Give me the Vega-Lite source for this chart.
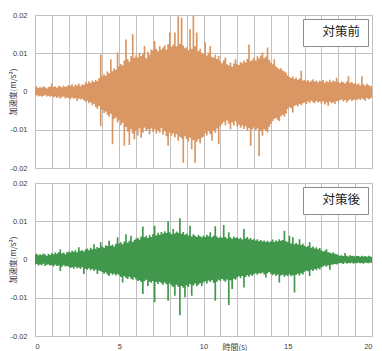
{
"$schema": "https://vega.github.io/schema/vega-lite/v6.json",
"padding": {"left": 9, "top": 11, "right": 5, "bottom": 0},
"bounds": "flush",
"spacing": 15,
"datasets": {
"before": [
{"t":0.0,"hi":0.0011,"lo":-0.0012},{"t":0.1,"hi":0.0013,"lo":-0.0010},{"t":0.2,"hi":0.0009,"lo":-0.0013},{"t":0.3,"hi":0.0012,"lo":-0.0011},{"t":0.4,"hi":0.0010,"lo":-0.0014},{"t":0.5,"hi":0.0014,"lo":-0.0012},{"t":0.6,"hi":0.0011,"lo":-0.0009},{"t":0.7,"hi":0.0008,"lo":-0.0013},{"t":0.8,"hi":0.0012,"lo":-0.0011},{"t":0.9,"hi":0.0013,"lo":-0.0014},
{"t":1.0,"hi":0.0021,"lo":-0.0012},{"t":1.1,"hi":0.0012,"lo":-0.0016},{"t":1.2,"hi":0.0014,"lo":-0.0013},{"t":1.3,"hi":0.0010,"lo":-0.0017},{"t":1.4,"hi":0.0015,"lo":-0.0014},{"t":1.5,"hi":0.0013,"lo":-0.0019},{"t":1.6,"hi":0.0011,"lo":-0.0015},{"t":1.7,"hi":0.0016,"lo":-0.0013},{"t":1.8,"hi":0.0012,"lo":-0.0018},{"t":1.9,"hi":0.0014,"lo":-0.0016},
{"t":2.0,"hi":0.0017,"lo":-0.0017},{"t":2.1,"hi":0.0015,"lo":-0.0020},{"t":2.2,"hi":0.0019,"lo":-0.0016},{"t":2.3,"hi":0.0013,"lo":-0.0019},{"t":2.4,"hi":0.0018,"lo":-0.0017},{"t":2.5,"hi":0.0016,"lo":-0.0025},{"t":2.6,"hi":0.0021,"lo":-0.0018},{"t":2.7,"hi":0.0014,"lo":-0.0021},{"t":2.8,"hi":0.0019,"lo":-0.0019},{"t":2.9,"hi":0.0017,"lo":-0.0023},
{"t":3.0,"hi":0.0024,"lo":-0.0027},{"t":3.1,"hi":0.0020,"lo":-0.0024},{"t":3.2,"hi":0.0027,"lo":-0.0031},{"t":3.3,"hi":0.0022,"lo":-0.0028},{"t":3.4,"hi":0.0029,"lo":-0.0036},{"t":3.5,"hi":0.0025,"lo":-0.0032},{"t":3.6,"hi":0.0031,"lo":-0.0040},{"t":3.7,"hi":0.0027,"lo":-0.0045},{"t":3.8,"hi":0.0035,"lo":-0.0038},{"t":3.9,"hi":0.0097,"lo":-0.0090},
{"t":4.0,"hi":0.0040,"lo":-0.0048},{"t":4.1,"hi":0.0045,"lo":-0.0056},{"t":4.2,"hi":0.0041,"lo":-0.0052},{"t":4.3,"hi":0.0052,"lo":-0.0061},{"t":4.4,"hi":0.0048,"lo":-0.0066},{"t":4.5,"hi":0.0084,"lo":-0.0058},{"t":4.6,"hi":0.0053,"lo":-0.0138},{"t":4.7,"hi":0.0061,"lo":-0.0072},{"t":4.8,"hi":0.0057,"lo":-0.0068},{"t":4.9,"hi":0.0102,"lo":-0.0081},
{"t":5.0,"hi":0.0066,"lo":-0.0075},{"t":5.1,"hi":0.0072,"lo":-0.0088},{"t":5.2,"hi":0.0068,"lo":-0.0082},{"t":5.3,"hi":0.0081,"lo":-0.0142},{"t":5.4,"hi":0.0136,"lo":-0.0093},{"t":5.5,"hi":0.0085,"lo":-0.0105},{"t":5.6,"hi":0.0078,"lo":-0.0140},{"t":5.7,"hi":0.0092,"lo":-0.0098},{"t":5.8,"hi":0.0150,"lo":-0.0110},{"t":5.9,"hi":0.0088,"lo":-0.0125},
{"t":6.0,"hi":0.0095,"lo":-0.0102},{"t":6.1,"hi":0.0089,"lo":-0.0115},{"t":6.2,"hi":0.0101,"lo":-0.0096},{"t":6.3,"hi":0.0093,"lo":-0.0121},{"t":6.4,"hi":0.0098,"lo":-0.0108},{"t":6.5,"hi":0.0119,"lo":-0.0094},{"t":6.6,"hi":0.0087,"lo":-0.0103},{"t":6.7,"hi":0.0104,"lo":-0.0099},{"t":6.8,"hi":0.0096,"lo":-0.0112},{"t":6.9,"hi":0.0110,"lo":-0.0097},
{"t":7.0,"hi":0.0108,"lo":-0.0105},{"t":7.1,"hi":0.0132,"lo":-0.0099},{"t":7.2,"hi":0.0112,"lo":-0.0110},{"t":7.3,"hi":0.0105,"lo":-0.0102},{"t":7.4,"hi":0.0118,"lo":-0.0108},{"t":7.5,"hi":0.0110,"lo":-0.0096},{"t":7.6,"hi":0.0115,"lo":-0.0113},{"t":7.7,"hi":0.0121,"lo":-0.0104},{"t":7.8,"hi":0.0109,"lo":-0.0117},{"t":7.9,"hi":0.0124,"lo":-0.0142},
{"t":8.0,"hi":0.0154,"lo":-0.0108},{"t":8.1,"hi":0.0117,"lo":-0.0115},{"t":8.2,"hi":0.0122,"lo":-0.0109},{"t":8.3,"hi":0.0154,"lo":-0.0120},{"t":8.4,"hi":0.0118,"lo":-0.0112},{"t":8.5,"hi":0.0197,"lo":-0.0129},{"t":8.6,"hi":0.0125,"lo":-0.0118},{"t":8.7,"hi":0.0193,"lo":-0.0123},{"t":8.8,"hi":0.0120,"lo":-0.0186},{"t":8.9,"hi":0.0113,"lo":-0.0117},
{"t":9.0,"hi":0.0116,"lo":-0.0124},{"t":9.1,"hi":0.0108,"lo":-0.0131},{"t":9.2,"hi":0.0163,"lo":-0.0120},{"t":9.3,"hi":0.0112,"lo":-0.0151},{"t":9.4,"hi":0.0199,"lo":-0.0127},{"t":9.5,"hi":0.0118,"lo":-0.0186},{"t":9.6,"hi":0.0154,"lo":-0.0132},{"t":9.7,"hi":0.0105,"lo":-0.0125},{"t":9.8,"hi":0.0112,"lo":-0.0136},{"t":9.9,"hi":0.0101,"lo":-0.0121},
{"t":10.0,"hi":0.0098,"lo":-0.0118},{"t":10.1,"hi":0.0129,"lo":-0.0109},{"t":10.2,"hi":0.0094,"lo":-0.0115},{"t":10.3,"hi":0.0102,"lo":-0.0104},{"t":10.4,"hi":0.0119,"lo":-0.0112},{"t":10.5,"hi":0.0091,"lo":-0.0129},{"t":10.6,"hi":0.0088,"lo":-0.0101},{"t":10.7,"hi":0.0096,"lo":-0.0108},{"t":10.8,"hi":0.0085,"lo":-0.0097},{"t":10.9,"hi":0.0093,"lo":-0.0138},
{"t":11.0,"hi":0.0079,"lo":-0.0091},{"t":11.1,"hi":0.0074,"lo":-0.0085},{"t":11.2,"hi":0.0082,"lo":-0.0079},{"t":11.3,"hi":0.0089,"lo":-0.0088},{"t":11.4,"hi":0.0071,"lo":-0.0076},{"t":11.5,"hi":0.0068,"lo":-0.0084},{"t":11.6,"hi":0.0076,"lo":-0.0099},{"t":11.7,"hi":0.0065,"lo":-0.0081},{"t":11.8,"hi":0.0073,"lo":-0.0089},{"t":11.9,"hi":0.0084,"lo":-0.0078},
{"t":12.0,"hi":0.0072,"lo":-0.0092},{"t":12.1,"hi":0.0069,"lo":-0.0087},{"t":12.2,"hi":0.0078,"lo":-0.0095},{"t":12.3,"hi":0.0074,"lo":-0.0089},{"t":12.4,"hi":0.0081,"lo":-0.0098},{"t":12.5,"hi":0.0076,"lo":-0.0091},{"t":12.6,"hi":0.0085,"lo":-0.0102},{"t":12.7,"hi":0.0123,"lo":-0.0096},{"t":12.8,"hi":0.0079,"lo":-0.0142},{"t":12.9,"hi":0.0083,"lo":-0.0099},
{"t":13.0,"hi":0.0088,"lo":-0.0094},{"t":13.1,"hi":0.0081,"lo":-0.0101},{"t":13.2,"hi":0.0092,"lo":-0.0097},{"t":13.3,"hi":0.0086,"lo":-0.0169},{"t":13.4,"hi":0.0094,"lo":-0.0104},{"t":13.5,"hi":0.0102,"lo":-0.0116},{"t":13.6,"hi":0.0087,"lo":-0.0099},{"t":13.7,"hi":0.0091,"lo":-0.0103},{"t":13.8,"hi":0.0115,"lo":-0.0107},{"t":13.9,"hi":0.0083,"lo":-0.0092},
{"t":14.0,"hi":0.0076,"lo":-0.0085},{"t":14.1,"hi":0.0071,"lo":-0.0078},{"t":14.2,"hi":0.0084,"lo":-0.0072},{"t":14.3,"hi":0.0066,"lo":-0.0069},{"t":14.4,"hi":0.0062,"lo":-0.0074},{"t":14.5,"hi":0.0058,"lo":-0.0077},{"t":14.6,"hi":0.0061,"lo":-0.0065},{"t":14.7,"hi":0.0055,"lo":-0.0061},{"t":14.8,"hi":0.0052,"lo":-0.0066},{"t":14.9,"hi":0.0049,"lo":-0.0058},
{"t":15.0,"hi":0.0042,"lo":-0.0046},{"t":15.1,"hi":0.0038,"lo":-0.0041},{"t":15.2,"hi":0.0035,"lo":-0.0044},{"t":15.3,"hi":0.0039,"lo":-0.0055},{"t":15.4,"hi":0.0033,"lo":-0.0038},{"t":15.5,"hi":0.0036,"lo":-0.0035},{"t":15.6,"hi":0.0031,"lo":-0.0039},{"t":15.7,"hi":0.0034,"lo":-0.0033},{"t":15.8,"hi":0.0054,"lo":-0.0036},{"t":15.9,"hi":0.0029,"lo":-0.0031},
{"t":16.0,"hi":0.0031,"lo":-0.0029},{"t":16.1,"hi":0.0027,"lo":-0.0033},{"t":16.2,"hi":0.0030,"lo":-0.0026},{"t":16.3,"hi":0.0025,"lo":-0.0030},{"t":16.4,"hi":0.0028,"lo":-0.0024},{"t":16.5,"hi":0.0032,"lo":-0.0028},{"t":16.6,"hi":0.0026,"lo":-0.0031},{"t":16.7,"hi":0.0029,"lo":-0.0025},{"t":16.8,"hi":0.0024,"lo":-0.0029},{"t":16.9,"hi":0.0028,"lo":-0.0027},
{"t":17.0,"hi":0.0026,"lo":-0.0032},{"t":17.1,"hi":0.0030,"lo":-0.0026},{"t":17.2,"hi":0.0023,"lo":-0.0034},{"t":17.3,"hi":0.0028,"lo":-0.0029},{"t":17.4,"hi":0.0025,"lo":-0.0037},{"t":17.5,"hi":0.0031,"lo":-0.0027},{"t":17.6,"hi":0.0024,"lo":-0.0031},{"t":17.7,"hi":0.0029,"lo":-0.0028},{"t":17.8,"hi":0.0026,"lo":-0.0033},{"t":17.9,"hi":0.0036,"lo":-0.0025},
{"t":18.0,"hi":0.0025,"lo":-0.0027},{"t":18.1,"hi":0.0022,"lo":-0.0023},{"t":18.2,"hi":0.0027,"lo":-0.0021},{"t":18.3,"hi":0.0024,"lo":-0.0026},{"t":18.4,"hi":0.0021,"lo":-0.0022},{"t":18.5,"hi":0.0026,"lo":-0.0029},{"t":18.6,"hi":0.0040,"lo":-0.0024},{"t":18.7,"hi":0.0023,"lo":-0.0020},{"t":18.8,"hi":0.0025,"lo":-0.0025},{"t":18.9,"hi":0.0020,"lo":-0.0022},
{"t":19.0,"hi":0.0022,"lo":-0.0020},{"t":19.1,"hi":0.0018,"lo":-0.0023},{"t":19.2,"hi":0.0021,"lo":-0.0019},{"t":19.3,"hi":0.0016,"lo":-0.0022},{"t":19.4,"hi":0.0040,"lo":-0.0018},{"t":19.5,"hi":0.0019,"lo":-0.0021},{"t":19.6,"hi":0.0015,"lo":-0.0024},{"t":19.7,"hi":0.0020,"lo":-0.0017},{"t":19.8,"hi":0.0017,"lo":-0.0020},{"t":19.9,"hi":0.0014,"lo":-0.0018},
{"t":20.0,"hi":0.0015,"lo":-0.0016}
],
"after": [
{"t":0.0,"hi":0.0013,"lo":-0.0014},{"t":0.1,"hi":0.0015,"lo":-0.0012},{"t":0.2,"hi":0.0011,"lo":-0.0016},{"t":0.3,"hi":0.0014,"lo":-0.0013},{"t":0.4,"hi":0.0012,"lo":-0.0015},{"t":0.5,"hi":0.0016,"lo":-0.0011},{"t":0.6,"hi":0.0013,"lo":-0.0017},{"t":0.7,"hi":0.0010,"lo":-0.0014},{"t":0.8,"hi":0.0015,"lo":-0.0013},{"t":0.9,"hi":0.0012,"lo":-0.0016},
{"t":1.0,"hi":0.0017,"lo":-0.0015},{"t":1.1,"hi":0.0014,"lo":-0.0018},{"t":1.2,"hi":0.0018,"lo":-0.0014},{"t":1.3,"hi":0.0015,"lo":-0.0017},{"t":1.4,"hi":0.0019,"lo":-0.0016},{"t":1.5,"hi":0.0027,"lo":-0.0030},{"t":1.6,"hi":0.0016,"lo":-0.0019},{"t":1.7,"hi":0.0018,"lo":-0.0015},{"t":1.8,"hi":0.0014,"lo":-0.0018},{"t":1.9,"hi":0.0019,"lo":-0.0017},
{"t":2.0,"hi":0.0021,"lo":-0.0019},{"t":2.1,"hi":0.0018,"lo":-0.0022},{"t":2.2,"hi":0.0023,"lo":-0.0020},{"t":2.3,"hi":0.0020,"lo":-0.0024},{"t":2.4,"hi":0.0024,"lo":-0.0019},{"t":2.5,"hi":0.0019,"lo":-0.0023},{"t":2.6,"hi":0.0032,"lo":-0.0021},{"t":2.7,"hi":0.0022,"lo":-0.0025},{"t":2.8,"hi":0.0025,"lo":-0.0020},{"t":2.9,"hi":0.0021,"lo":-0.0038},
{"t":3.0,"hi":0.0026,"lo":-0.0024},{"t":3.1,"hi":0.0029,"lo":-0.0027},{"t":3.2,"hi":0.0024,"lo":-0.0023},{"t":3.3,"hi":0.0031,"lo":-0.0028},{"t":3.4,"hi":0.0027,"lo":-0.0025},{"t":3.5,"hi":0.0040,"lo":-0.0030},{"t":3.6,"hi":0.0028,"lo":-0.0026},{"t":3.7,"hi":0.0033,"lo":-0.0038},{"t":3.8,"hi":0.0030,"lo":-0.0029},{"t":3.9,"hi":0.0045,"lo":-0.0031},
{"t":4.0,"hi":0.0034,"lo":-0.0033},{"t":4.1,"hi":0.0031,"lo":-0.0037},{"t":4.2,"hi":0.0037,"lo":-0.0034},{"t":4.3,"hi":0.0035,"lo":-0.0039},{"t":4.4,"hi":0.0049,"lo":-0.0043},{"t":4.5,"hi":0.0036,"lo":-0.0036},{"t":4.6,"hi":0.0039,"lo":-0.0040},{"t":4.7,"hi":0.0034,"lo":-0.0037},{"t":4.8,"hi":0.0041,"lo":-0.0042},{"t":4.9,"hi":0.0058,"lo":-0.0038},
{"t":5.0,"hi":0.0042,"lo":-0.0041},{"t":5.1,"hi":0.0045,"lo":-0.0046},{"t":5.2,"hi":0.0040,"lo":-0.0060},{"t":5.3,"hi":0.0047,"lo":-0.0044},{"t":5.4,"hi":0.0066,"lo":-0.0048},{"t":5.5,"hi":0.0044,"lo":-0.0051},{"t":5.6,"hi":0.0049,"lo":-0.0045},{"t":5.7,"hi":0.0062,"lo":-0.0050},{"t":5.8,"hi":0.0046,"lo":-0.0053},{"t":5.9,"hi":0.0051,"lo":-0.0047},
{"t":6.0,"hi":0.0054,"lo":-0.0052},{"t":6.1,"hi":0.0057,"lo":-0.0056},{"t":6.2,"hi":0.0052,"lo":-0.0054},{"t":6.3,"hi":0.0060,"lo":-0.0059},{"t":6.4,"hi":0.0086,"lo":-0.0090},{"t":6.5,"hi":0.0058,"lo":-0.0057},{"t":6.6,"hi":0.0062,"lo":-0.0053},{"t":6.7,"hi":0.0056,"lo":-0.0069},{"t":6.8,"hi":0.0064,"lo":-0.0058},{"t":6.9,"hi":0.0059,"lo":-0.0061},
{"t":7.0,"hi":0.0066,"lo":-0.0056},{"t":7.1,"hi":0.0088,"lo":-0.0112},{"t":7.2,"hi":0.0063,"lo":-0.0059},{"t":7.3,"hi":0.0070,"lo":-0.0064},{"t":7.4,"hi":0.0065,"lo":-0.0058},{"t":7.5,"hi":0.0072,"lo":-0.0062},{"t":7.6,"hi":0.0067,"lo":-0.0066},{"t":7.7,"hi":0.0074,"lo":-0.0060},{"t":7.8,"hi":0.0069,"lo":-0.0065},{"t":7.9,"hi":0.0100,"lo":-0.0108},
{"t":8.0,"hi":0.0071,"lo":-0.0063},{"t":8.1,"hi":0.0066,"lo":-0.0068},{"t":8.2,"hi":0.0080,"lo":-0.0072},{"t":8.3,"hi":0.0068,"lo":-0.0095},{"t":8.4,"hi":0.0073,"lo":-0.0066},{"t":8.5,"hi":0.0070,"lo":-0.0071},{"t":8.6,"hi":0.0108,"lo":-0.0146},{"t":8.7,"hi":0.0067,"lo":-0.0069},{"t":8.8,"hi":0.0072,"lo":-0.0074},{"t":8.9,"hi":0.0065,"lo":-0.0099},
{"t":9.0,"hi":0.0068,"lo":-0.0067},{"t":9.1,"hi":0.0063,"lo":-0.0072},{"t":9.2,"hi":0.0088,"lo":-0.0065},{"t":9.3,"hi":0.0060,"lo":-0.0095},{"t":9.4,"hi":0.0066,"lo":-0.0068},{"t":9.5,"hi":0.0062,"lo":-0.0063},{"t":9.6,"hi":0.0059,"lo":-0.0070},{"t":9.7,"hi":0.0064,"lo":-0.0066},{"t":9.8,"hi":0.0061,"lo":-0.0062},{"t":9.9,"hi":0.0058,"lo":-0.0069},
{"t":10.0,"hi":0.0063,"lo":-0.0060},{"t":10.1,"hi":0.0059,"lo":-0.0057},{"t":10.2,"hi":0.0065,"lo":-0.0063},{"t":10.3,"hi":0.0061,"lo":-0.0055},{"t":10.4,"hi":0.0071,"lo":-0.0059},{"t":10.5,"hi":0.0058,"lo":-0.0054},{"t":10.6,"hi":0.0062,"lo":-0.0061},{"t":10.7,"hi":0.0087,"lo":-0.0108},{"t":10.8,"hi":0.0060,"lo":-0.0058},{"t":10.9,"hi":0.0056,"lo":-0.0053},
{"t":11.0,"hi":0.0061,"lo":-0.0056},{"t":11.1,"hi":0.0057,"lo":-0.0051},{"t":11.2,"hi":0.0090,"lo":-0.0055},{"t":11.3,"hi":0.0059,"lo":-0.0058},{"t":11.4,"hi":0.0055,"lo":-0.0052},{"t":11.5,"hi":0.0071,"lo":-0.0119},{"t":11.6,"hi":0.0058,"lo":-0.0054},{"t":11.7,"hi":0.0054,"lo":-0.0077},{"t":11.8,"hi":0.0060,"lo":-0.0050},{"t":11.9,"hi":0.0056,"lo":-0.0053},
{"t":12.0,"hi":0.0058,"lo":-0.0047},{"t":12.1,"hi":0.0054,"lo":-0.0044},{"t":12.2,"hi":0.0057,"lo":-0.0049},{"t":12.3,"hi":0.0052,"lo":-0.0043},{"t":12.4,"hi":0.0080,"lo":-0.0073},{"t":12.5,"hi":0.0055,"lo":-0.0046},{"t":12.6,"hi":0.0059,"lo":-0.0041},{"t":12.7,"hi":0.0053,"lo":-0.0045},{"t":12.8,"hi":0.0056,"lo":-0.0040},{"t":12.9,"hi":0.0051,"lo":-0.0043},
{"t":13.0,"hi":0.0054,"lo":-0.0038},{"t":13.1,"hi":0.0050,"lo":-0.0036},{"t":13.2,"hi":0.0053,"lo":-0.0040},{"t":13.3,"hi":0.0048,"lo":-0.0035},{"t":13.4,"hi":0.0051,"lo":-0.0037},{"t":13.5,"hi":0.0047,"lo":-0.0034},{"t":13.6,"hi":0.0050,"lo":-0.0039},{"t":13.7,"hi":0.0046,"lo":-0.0047},{"t":13.8,"hi":0.0049,"lo":-0.0036},{"t":13.9,"hi":0.0045,"lo":-0.0033},
{"t":14.0,"hi":0.0048,"lo":-0.0037},{"t":14.1,"hi":0.0052,"lo":-0.0041},{"t":14.2,"hi":0.0046,"lo":-0.0038},{"t":14.3,"hi":0.0050,"lo":-0.0043},{"t":14.4,"hi":0.0047,"lo":-0.0039},{"t":14.5,"hi":0.0053,"lo":-0.0060},{"t":14.6,"hi":0.0049,"lo":-0.0042},{"t":14.7,"hi":0.0051,"lo":-0.0040},{"t":14.8,"hi":0.0075,"lo":-0.0045},{"t":14.9,"hi":0.0048,"lo":-0.0041},
{"t":15.0,"hi":0.0046,"lo":-0.0043},{"t":15.1,"hi":0.0062,"lo":-0.0039},{"t":15.2,"hi":0.0042,"lo":-0.0044},{"t":15.3,"hi":0.0058,"lo":-0.0041},{"t":15.4,"hi":0.0040,"lo":-0.0086},{"t":15.5,"hi":0.0043,"lo":-0.0040},{"t":15.6,"hi":0.0039,"lo":-0.0037},{"t":15.7,"hi":0.0053,"lo":-0.0042},{"t":15.8,"hi":0.0038,"lo":-0.0036},{"t":15.9,"hi":0.0041,"lo":-0.0039},
{"t":16.0,"hi":0.0036,"lo":-0.0032},{"t":16.1,"hi":0.0033,"lo":-0.0029},{"t":16.2,"hi":0.0035,"lo":-0.0031},{"t":16.3,"hi":0.0045,"lo":-0.0043},{"t":16.4,"hi":0.0031,"lo":-0.0027},{"t":16.5,"hi":0.0034,"lo":-0.0030},{"t":16.6,"hi":0.0029,"lo":-0.0025},{"t":16.7,"hi":0.0032,"lo":-0.0028},{"t":16.8,"hi":0.0027,"lo":-0.0023},{"t":16.9,"hi":0.0030,"lo":-0.0026},
{"t":17.0,"hi":0.0024,"lo":-0.0020},{"t":17.1,"hi":0.0021,"lo":-0.0018},{"t":17.2,"hi":0.0023,"lo":-0.0016},{"t":17.3,"hi":0.0027,"lo":-0.0019},{"t":17.4,"hi":0.0019,"lo":-0.0015},{"t":17.5,"hi":0.0018,"lo":-0.0027},{"t":17.6,"hi":0.0016,"lo":-0.0014},{"t":17.7,"hi":0.0019,"lo":-0.0013},{"t":17.8,"hi":0.0015,"lo":-0.0012},{"t":17.9,"hi":0.0014,"lo":-0.0013},
{"t":18.0,"hi":0.0012,"lo":-0.0011},{"t":18.1,"hi":0.0010,"lo":-0.0009},{"t":18.2,"hi":0.0011,"lo":-0.0010},{"t":18.3,"hi":0.0009,"lo":-0.0012},{"t":18.4,"hi":0.0017,"lo":-0.0008},{"t":18.5,"hi":0.0010,"lo":-0.0011},{"t":18.6,"hi":0.0008,"lo":-0.0009},{"t":18.7,"hi":0.0011,"lo":-0.0010},{"t":18.8,"hi":0.0009,"lo":-0.0008},{"t":18.9,"hi":0.0010,"lo":-0.0011},
{"t":19.0,"hi":0.0008,"lo":-0.0009},{"t":19.1,"hi":0.0010,"lo":-0.0010},{"t":19.2,"hi":0.0009,"lo":-0.0008},{"t":19.3,"hi":0.0007,"lo":-0.0010},{"t":19.4,"hi":0.0010,"lo":-0.0009},{"t":19.5,"hi":0.0008,"lo":-0.0011},{"t":19.6,"hi":0.0009,"lo":-0.0008},{"t":19.7,"hi":0.0007,"lo":-0.0009},{"t":19.8,"hi":0.0010,"lo":-0.0010},{"t":19.9,"hi":0.0008,"lo":-0.0008},
{"t":20.0,"hi":0.0007,"lo":-0.0009}
]
},
"vconcat": [
{
"width": 337, "height": 153,
"data": {"name": "before"},
"mark": {"type": "area", "interpolate": "step"},
"encoding": {
"x": {"field": "t", "type": "quantitative", "scale": {"domain": [0, 20], "nice": false},
"axis": {"values": [0,1,2,3,4,5,6,7,8,9,10,11,12,13,14,15,16,17,18,19,20], "labels": false, "title": null}},
"y": {"field": "hi", "type": "quantitative", "scale": {"domain": [-0.02, 0.02], "nice": false},
"axis": {"values": [-0.02, -0.01, 0, 0.01, 0.02], "labelExpr": "datum.value == 0 ? '0' : replace(format(datum.value, '.2f'), '−', '-')", "title": "加速度(m/s²)", "titleX": -22, "titleBaseline": "middle"}},
"y2": {"field": "lo"},
"color": {"datum": "対策前", "scale": {"range": ["#DA9764"]}, "legend": {"title": null}}
}
},
{
"width": 337, "height": 153,
"data": {"name": "after"},
"mark": {"type": "area", "interpolate": "step"},
"encoding": {
"x": {"field": "t", "type": "quantitative", "scale": {"domain": [0, 20], "nice": false},
"axis": {"values": [0,1,2,3,4,5,6,7,8,9,10,11,12,13,14,15,16,17,18,19,20], "labelExpr": "datum.value % 5 == 0 ? datum.label : ''", "labelPadding": 6, "title": "時間(s)", "titleX": 199.5, "titleY": 11.5, "titleBaseline": "middle", "titleAlign": "center"}},
"y": {"field": "hi", "type": "quantitative", "scale": {"domain": [-0.02, 0.02], "nice": false},
"axis": {"values": [-0.02, -0.01, 0, 0.01, 0.02], "labelExpr": "datum.value == 0 ? '0' : replace(format(datum.value, '.2f'), '−', '-')", "title": "加速度(m/s²)", "titleX": -22, "titleBaseline": "middle"}},
"y2": {"field": "lo"},
"color": {"datum": "対策後", "scale": {"range": ["#41984C"]}, "legend": {"title": null}}
}
}
],
"resolve": {"scale": {"color": "independent"}, "legend": {"color": "independent"}},
"config": {
"font": "Liberation Sans",
"view": {"stroke": null},
"axis": {"gridColor": "#c0c0c0", "gridWidth": 1, "domain": false, "ticks": false, "labelPadding": 8, "labelFont": "Liberation Sans", "labelFontSize": 7.5, "labelColor": "#404040", "titleFont": "Noto Sans CJK JP", "titleFontSize": 8, "titleFontWeight": "normal", "titleColor": "#404040"},
"legend": {"orient": "top-right", "offset": 4, "padding": 7, "strokeColor": "#8c8c8c", "fillColor": "white", "labelFont": "Noto Sans CJK JP", "labelFontSize": 12.5, "labelColor": "#1a1a1a", "symbolSize": 0, "symbolStrokeWidth": 0, "symbolOpacity": 0, "labelOffset": 0}
}
}
